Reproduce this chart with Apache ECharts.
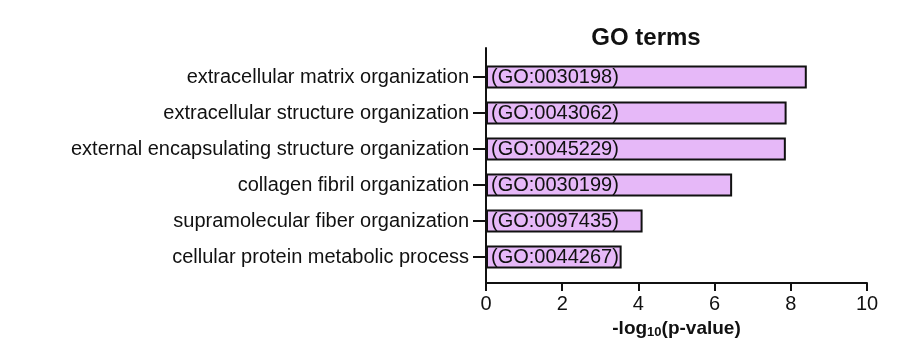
<!DOCTYPE html>
<html>
<head>
<meta charset="utf-8">
<script src="https://cdn.jsdelivr.net/npm/echarts@6/dist/echarts.min.js"></script>
<style>
html, body { margin: 0; padding: 0; background: #fff; }
#chart { width: 912px; height: 353px; }
</style>
</head>
<body>
<div id="chart"></div>
<script>
// GO terms, top to bottom
var terms = [
    'extracellular matrix organization',
    'extracellular structure organization',
    'external encapsulating structure organization',
    'collagen fibril organization',
    'supramolecular fiber organization',
    'cellular protein metabolic process'
];
var goIds = ['GO:0030198', 'GO:0043062', 'GO:0045229', 'GO:0030199', 'GO:0097435', 'GO:0044267'];
var logP = [8.42, 7.89, 7.87, 6.46, 4.11, 3.56];

var font = "'Liberation Sans', Arial, Helvetica, sans-serif";

var myChart = echarts.init(document.getElementById('chart'));

var option = {
    backgroundColor: '#fff',
    animation: false,
    title: {
        text: 'GO terms',
        left: 641, top: 21, textAlign: 'center',
        textStyle: { fontFamily: font, fontSize: 24, fontWeight: 'bold', color: '#111' }
    },
    grid: [
        // frame with the long axis lines
        { left: 486, right: 45, top: 48, bottom: 70 },
        // bar area
        { left: 486, right: 45, top: 59, bottom: 78 }
    ],
    xAxis: [{
        gridIndex: 0,
        type: 'value',
        min: 0, max: 10, interval: 2,
        name: '-log{sub|10}(p-value)',
        nameLocation: 'middle',
        nameGap: 34,
        nameTextStyle: {
            fontFamily: font, fontSize: 19, fontWeight: 'bold', color: '#111',
            rich: { sub: { fontFamily: font, fontSize: 13, fontWeight: 'bold', color: '#111', verticalAlign: 'bottom', padding: [8, 0, 0, 0] } }
        },
        axisLine: { show: true, lineStyle: { color: '#111', width: 2 } },
        axisTick: { show: true, length: 8, lineStyle: { color: '#111', width: 2 } },
        axisLabel: { margin: 11, fontFamily: font, fontSize: 20, color: '#111' },
        splitLine: { show: false }
    }, {
        gridIndex: 1,
        type: 'value',
        min: 0, max: 10,
        show: false
    }],
    yAxis: [{
        gridIndex: 0,
        type: 'value',
        axisLine: { show: true, lineStyle: { color: '#111', width: 2 } },
        axisTick: { show: false },
        axisLabel: { show: false },
        splitLine: { show: false }
    }, {
        gridIndex: 1,
        type: 'category',
        inverse: true,
        data: terms,
        axisLine: { show: false },
        axisTick: { show: true, alignWithLabel: true, length: 13, lineStyle: { color: '#111', width: 2 } },
        axisLabel: { margin: 17, fontFamily: font, fontSize: 20, color: '#111' }
    }],
    series: [{
        type: 'bar',
        xAxisIndex: 1,
        yAxisIndex: 1,
        data: logP,
        barWidth: 23,
        itemStyle: { color: '#e6b8f8', borderColor: '#111', borderWidth: 2 },
        label: {
            show: true,
            position: 'insideLeft',
            distance: 5,
            formatter: function (p) { return '(' + goIds[p.dataIndex] + ')'; },
            fontFamily: font, fontSize: 20, color: '#111'
        }
    }]
};
myChart.setOption(option);
</script>
</body>
</html>
